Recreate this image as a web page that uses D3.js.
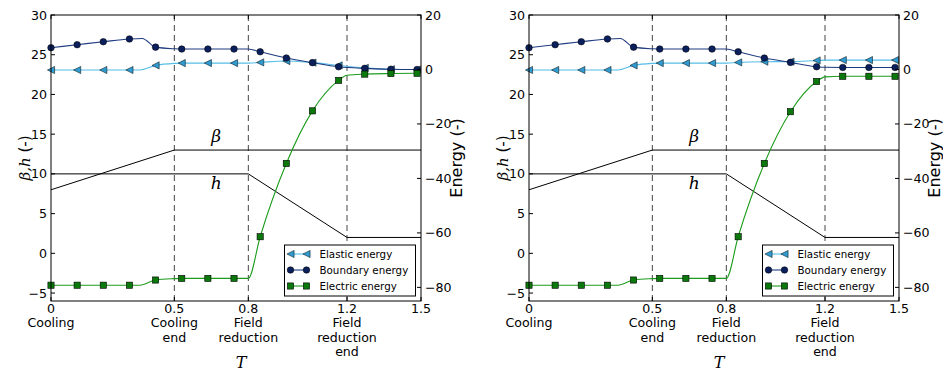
<!DOCTYPE html>
<html>
<head>
<meta charset="utf-8">
<script src="https://cdnjs.cloudflare.com/ajax/libs/d3/7.8.5/d3.min.js"></script>
<style>
body { margin: 0; background: #fff; }
svg text { font-family: 'DejaVu Sans', sans-serif; fill: #000; }
.math { font-family: 'DejaVu Serif', serif; font-style: italic; }
</style>
</head>
<body>
<div class="chart"></div>
<script>
// time axis
const tickT = [0, 0.5, 0.8, 1.2, 1.5];
const tickNames = [['0', 'Cooling'], ['0.5', 'Cooling', 'end'], ['0.8', 'Field', 'reduction'], ['1.2', 'Field', 'reduction', 'end'], ['1.5']];
const eventT = [0.5, 0.8, 1.2];
const leftTicks = [-5, 0, 5, 10, 15, 20, 25, 30];
const rightTicks = [-80, -60, -40, -20, 0, 20];

// control parameters beta and h
const betaT = [0, 0.5, 1.5], betaV = [8, 13, 13];
const hT = [0, 0.8, 1.2, 1.5], hV = [10, 10, 2, 2];

// energies at the marked samples
const markerT = [0, 0.106, 0.212, 0.318, 0.424, 0.53, 0.636, 0.742, 0.848, 0.954, 1.06, 1.166, 1.272, 1.378, 1.484];
const elasticA = [-0.2, -0.2, -0.2, -0.2, 1.5, 2.35, 2.35, 2.35, 2.6, 3.1, 2.5, 1.5, 0.6, 0.1, 0.0];
const boundaryA = [8.0, 9.1, 10.2, 11.2, 8.2, 7.5, 7.5, 7.5, 6.5, 4.2, 2.5, 1.0, 0.4, 0.1, 0.0];
const electricA = [-79.2, -79.2, -79.2, -79.2, -77.3, -76.7, -76.7, -76.7, -61.4, -34.5, -15.2, -4.0, -1.7, -1.5, -1.4];
const elasticB = [-0.2, -0.2, -0.2, -0.2, 1.5, 2.35, 2.35, 2.35, 2.6, 2.85, 2.9, 3.3, 3.45, 3.45, 3.45];
const boundaryB = [8.0, 9.1, 10.2, 11.2, 8.2, 7.5, 7.5, 7.5, 6.5, 4.2, 2.6, 1.0, 0.75, 0.75, 0.75];
const electricB = [-79.2, -79.2, -79.2, -79.2, -77.3, -76.7, -76.7, -76.7, -61.4, -34.5, -15.5, -4.4, -2.5, -2.5, -2.5];

// unmarked points where the curves bend
const elasticKnotT = [0.36, 0.5, 0.8], elasticKnotV = [-0.2, 2.25, 2.35];
const boundaryKnotT = [0.37, 0.5, 0.8], boundaryKnotV = [11.4, 7.6, 7.5];
const electricKnotT = [0.36, 0.5, 0.8], electricKnotV = [-79.2, -76.8, -76.7];
const tailKnotA = { elastic: null, boundary: null, electric: -2.1 };
const tailKnotB = { elastic: 3.42, boundary: 0.8, electric: -2.7 };

const width = 943, height = 373;
const plotTop = 15, plotBottom = 301;
const panels = [
    { x0: 51, x1: 421, elastic: elasticA, boundary: boundaryA, electric: electricA, tail: tailKnotA },
    { x0: 529, x1: 899, elastic: elasticB, boundary: boundaryB, electric: electricB, tail: tailKnotB }
];

const series = [
    { key: 'elastic', name: 'Elastic energy', line: '#55bde6', fill: '#2f9bd0', shape: 'tri', knotT: elasticKnotT, knotV: elasticKnotV },
    { key: 'boundary', name: 'Boundary energy', line: '#1f3b80', fill: '#0b1f5c', shape: 'circle', knotT: boundaryKnotT, knotV: boundaryKnotV },
    { key: 'electric', name: 'Electric energy', line: '#1c9c1c', fill: '#0a780a', shape: 'square', knotT: electricKnotT, knotV: electricKnotV }
];

const svg = d3.select('.chart')
    .append('svg')
    .attr('width', width)
    .attr('height', height);

const fmt = v => (v < 0 ? '\u2212' + Math.abs(v) : '' + v);

const drawMarker = (g, shape, x, y, fill) => {
    if (shape === 'circle') {
        g.append('circle').attr('cx', x).attr('cy', y).attr('r', 3.3)
            .attr('fill', fill).attr('stroke', '#000').attr('stroke-width', 0.5);
    } else if (shape === 'square') {
        g.append('rect').attr('x', x - 3.1).attr('y', y - 3.1).attr('width', 6.2).attr('height', 6.2)
            .attr('fill', fill).attr('stroke', '#000').attr('stroke-width', 0.6);
    } else {
        g.append('path').attr('d', `M${x - 3.6},${y}L${x + 3.6},${y - 3.6}L${x + 3.6},${y + 3.6}Z`)
            .attr('fill', fill).attr('stroke', '#000').attr('stroke-width', 0.5);
    }
};

for (let p = 0; p < panels.length; p++) {
    const panel = panels[p];
    const x = d3.scaleLinear().domain([0, 1.5]).range([panel.x0, panel.x1]);
    const yL = d3.scaleLinear().domain([-6, 30]).range([plotBottom, plotTop]);
    const yR = d3.scaleLinear().domain([-85, 20]).range([plotBottom, plotTop]);
    const g = svg.append('g');

    // event lines
    for (let i = 0; i < eventT.length; i++) {
        g.append('line')
            .attr('x1', x(eventT[i])).attr('x2', x(eventT[i]))
            .attr('y1', plotTop).attr('y2', plotBottom)
            .attr('stroke', '#444').attr('stroke-width', 1)
            .attr('stroke-dasharray', '6,4');
    }

    // beta and h
    const lineL = d3.line().x(d => x(d[0])).y(d => yL(d[1]));
    g.append('path').attr('d', lineL(d3.zip(betaT, betaV)))
        .attr('fill', 'none').attr('stroke', '#000').attr('stroke-width', 1);
    g.append('path').attr('d', lineL(d3.zip(hT, hV)))
        .attr('fill', 'none').attr('stroke', '#000').attr('stroke-width', 1);
    g.append('text').attr('class', 'math').attr('x', x(0.67)).attr('y', 142)
        .attr('text-anchor', 'middle').attr('font-size', '17px').text('\u03b2');
    g.append('text').attr('class', 'math').attr('x', x(0.67)).attr('y', 189)
        .attr('text-anchor', 'middle').attr('font-size', '17px').text('h');

    // energies
    const lineR = d3.line().x(d => x(d[0])).y(d => yR(d[1])).curve(d3.curveMonotoneX);
    for (let s = 0; s < series.length; s++) {
        const sr = series[s];
        const vals = panel[sr.key];
        let pts = d3.zip(markerT, vals).concat(d3.zip(sr.knotT, sr.knotV));
        if (panel.tail[sr.key] !== null) pts.push([1.2, panel.tail[sr.key]]);
        pts.sort((a, b) => a[0] - b[0]);
        g.append('path').attr('d', lineR(pts))
            .attr('fill', 'none').attr('stroke', sr.line).attr('stroke-width', 1.1);
        for (let i = 0; i < markerT.length; i++) {
            drawMarker(g, sr.shape, x(markerT[i]), yR(vals[i]), sr.fill);
        }
    }

    // frame
    g.append('rect').attr('x', panel.x0).attr('y', plotTop)
        .attr('width', panel.x1 - panel.x0).attr('height', plotBottom - plotTop)
        .attr('fill', 'none').attr('stroke', '#000').attr('stroke-width', 1);

    // left ticks
    for (let i = 0; i < leftTicks.length; i++) {
        const yy = yL(leftTicks[i]);
        g.append('line').attr('x1', panel.x0).attr('x2', panel.x0 + 4).attr('y1', yy).attr('y2', yy)
            .attr('stroke', '#000');
        g.append('text').attr('x', panel.x0 - 4).attr('y', yy).attr('dy', '0.36em')
            .attr('text-anchor', 'end').attr('font-size', '12.6px').text(fmt(leftTicks[i]));
    }
    // right ticks
    for (let i = 0; i < rightTicks.length; i++) {
        const yy = yR(rightTicks[i]);
        g.append('line').attr('x1', panel.x1).attr('x2', panel.x1 - 4).attr('y1', yy).attr('y2', yy)
            .attr('stroke', '#000');
        g.append('text').attr('x', panel.x1 + 4).attr('y', yy).attr('dy', '0.36em')
            .attr('text-anchor', 'start').attr('font-size', '12.6px').text(fmt(rightTicks[i]));
    }
    // bottom ticks
    for (let i = 0; i < tickT.length; i++) {
        const xx = x(tickT[i]);
        g.append('line').attr('x1', xx).attr('x2', xx).attr('y1', plotBottom).attr('y2', plotBottom - 4).attr('stroke', '#000');
        g.append('line').attr('x1', xx).attr('x2', xx).attr('y1', plotTop).attr('y2', plotTop + 4).attr('stroke', '#000');
        const t = g.append('text').attr('text-anchor', 'middle').attr('font-size', '12.6px');
        tickNames[i].forEach((s, j) => {
            t.append('tspan').attr('x', xx).attr('y', 313 + j * 14.3).text(s);
        });
    }

    // axis labels
    const lab = g.append('text').attr('transform', `translate(${panel.x0 - 21},${(plotTop + plotBottom) / 2}) rotate(-90)`)
        .attr('text-anchor', 'middle').attr('font-size', '15px');
    lab.append('tspan').attr('class', 'math').text('\u03b2,h');
    lab.append('tspan').text(' (-)');
    g.append('text').attr('transform', `translate(${panel.x1 + 41},${(plotTop + plotBottom) / 2}) rotate(-90)`)
        .attr('text-anchor', 'middle').attr('font-size', '16px').text('Energy (-)');
    g.append('text').attr('class', 'math').attr('x', (panel.x0 + panel.x1) / 2 + 5).attr('y', 368)
        .attr('text-anchor', 'middle').attr('font-size', '16px').text('T');

    // legend
    const lx = panel.x0 + 233.5, ly = 245;
    g.append('rect').attr('x', lx).attr('y', ly).attr('width', panel.x1 - 5.5 - lx).attr('height', 51)
        .attr('fill', '#fff').attr('stroke', '#000').attr('stroke-width', 1);
    for (let s = 0; s < series.length; s++) {
        const sr = series[s];
        const yy = ly + 9 + s * 16;
        g.append('line').attr('x1', lx + 6).attr('x2', lx + 22).attr('y1', yy).attr('y2', yy)
            .attr('stroke', sr.line).attr('stroke-width', 1.1);
        drawMarker(g, sr.shape, lx + 6, yy, sr.fill);
        drawMarker(g, sr.shape, lx + 22, yy, sr.fill);
        g.append('text').attr('x', lx + 35).attr('y', yy).attr('dy', '0.36em')
            .attr('font-size', '10.3px').text(sr.name);
    }
}
</script>
</body>
</html>
